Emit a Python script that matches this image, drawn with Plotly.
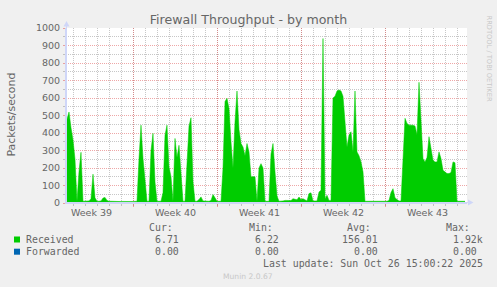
import plotly.graph_objects as go
import pandas as pd

# ---------------- data ----------------
received = [
    480, 520, 430, 360, 250, 10, 180, 290, 10, 10,
    10, 12, 25, 165, 30, 10, 10, 12, 28, 32,
    15, 10, 10, 9, 8, 9, 8, 8, 9, 8,
    8, 9, 8, 9, 10, 10, 254, 445, 254, 150,
    10, 10, 300, 398, 120, 10, 10, 10, 60, 388,
    445, 206, 150, 10, 369, 260, 330, 150, 10, 10,
    250, 440, 487, 120, 10, 10, 20, 35, 12, 10,
    10, 10, 15, 48, 30, 10, 10, 10, 200, 580,
    598, 540, 350, 200, 465, 640, 420, 340, 320, 270,
    340, 292, 150, 150, 150, 10, 200, 225, 200, 10,
    10, 10, 280, 340, 178, 40, 10, 10, 12, 15,
    14, 15, 14, 25, 22, 18, 34, 20, 25, 18,
    12, 54, 58, 12, 12, 12, 63, 73, 940, 25,
    44, 15, 15, 600, 610, 640, 646, 640, 610, 470,
    320, 388, 407, 292, 640, 292, 270, 235, 178, 10,
    10, 10, 10, 10, 10, 10, 10, 10, 10, 10,
    10, 15, 60, 82, 30, 20, 12, 12, 250, 484,
    455, 445, 445, 445, 440, 390, 690, 465, 254, 235,
    260, 379, 300, 245, 235, 235, 292, 254, 187, 178,
    168, 168, 175, 235, 230, 10, 10, 10, 10, 10,
]
received_times = pd.date_range("2025-09-23 11:00", periods=len(received), freq="4h")

forwarded = [0.0, 0.0]
forwarded_times = ["2025-09-23 09:00", "2025-10-26 15:00"]

x_range = ["2025-09-23 09:00", "2025-10-26 19:00"]
week_starts = ["2025-09-29", "2025-10-06", "2025-10-13", "2025-10-20"]
week_label_dates = ["2025-09-25 12:00", "2025-10-02 12:00", "2025-10-09 12:00",
                    "2025-10-16 12:00", "2025-10-23 12:00"]
week_labels = ["Week 39", "Week 40", "Week 41", "Week 42", "Week 43"]

series_names = ["Received", "Forwarded"]
series_colors = ["#00CC00", "#0066B3"]
stat_headers = ["Cur:", "Min:", "Avg:", "Max:"]
received_stats = ["6.71", "6.22", "156.01", "1.92k"]
forwarded_stats = ["0.00", "0.00", "0.00", "0.00"]

title_text = "Firewall Throughput - by month"
y_title = "Packets/second"
last_update = "Last update: Sun Oct 26 15:00:22 2025"
munin_version = "Munin 2.0.67"
rrd_credit = "RRDTOOL / TOBI OETIKER"

# ---------------- layout geometry ----------------
W, H = 497, 287
L, R, T, B = 66, 30, 28, 84
PW, PH = W - L - R, H - T - B


def px(x):
    return (x - L) / PW


def py(y):
    return (H - B - y) / PH


FONT = "DejaVu Sans"
MONO = "DejaVu Sans Mono"
FC = "#666666"
GRID = "rgba(143,143,143,0.5)"
MGRID = "rgba(222,79,79,0.5)"
AXIS = "#CFD6F8"

fig = go.Figure()
fig.add_trace(go.Scatter(
    x=received_times, y=received, mode="lines", fill="tozeroy",
    fillcolor=series_colors[0], line=dict(color=series_colors[0], width=0.5),
    name=series_names[0], hoverinfo="skip", showlegend=False,
))
fig.add_trace(go.Scatter(
    x=forwarded_times, y=forwarded, mode="lines", xaxis="x2",
    line=dict(color=series_colors[1], width=1),
    name=series_names[1], hoverinfo="skip", showlegend=False,
))

annotations = []
shapes = []

# y axis title
annotations.append(dict(text=y_title, x=px(10.5), y=py(114), xref="paper", yref="paper",
                        textangle=-90, showarrow=False, xanchor="center", yanchor="middle",
                        font=dict(family=FONT, size=10.9, color=FC)))
# rrdtool credit
annotations.append(dict(text=rrd_credit, x=px(488.5), y=py(58), xref="paper", yref="paper",
                        textangle=90, showarrow=False, xanchor="center", yanchor="middle",
                        font=dict(family=FONT, size=6.7, color="#C8C8C8")))

# legend header
header_right = [173, 273, 371, 470]
for txt, xr in zip(stat_headers, header_right):
    annotations.append(dict(text=txt, x=px(xr), y=py(227.3), xref="paper", yref="paper",
                            showarrow=False, xanchor="right", yanchor="middle",
                            borderpad=0, borderwidth=0,
                            font=dict(family=MONO, size=9.9, color=FC)))

row_y = [239.5, 251.7]
stat_right = [[179, 279, 378, 483], [179, 279, 378, 477]]
for name, color, stats, ry, rights in zip(series_names, series_colors,
                                           [received_stats, forwarded_stats], row_y, stat_right):
    shapes.append(dict(type="rect", xref="paper", yref="paper",
                       x0=px(14), x1=px(20), y0=py(ry + 3), y1=py(ry - 3),
                       fillcolor=color, line=dict(width=0)))
    annotations.append(dict(text=name, x=px(26), y=py(ry), xref="paper", yref="paper",
                            showarrow=False, xanchor="left", yanchor="middle",
                            borderpad=0, borderwidth=0,
                            font=dict(family=MONO, size=9.9, color=FC)))
    for val, xr in zip(stats, rights):
        annotations.append(dict(text=val, x=px(xr), y=py(ry), xref="paper", yref="paper",
                                showarrow=False, xanchor="right", yanchor="middle",
                                borderpad=0, borderwidth=0,
                                font=dict(family=MONO, size=9.9, color=FC)))

annotations.append(dict(text=last_update, x=px(483), y=py(263.5), xref="paper", yref="paper",
                        showarrow=False, xanchor="right", yanchor="middle",
                        borderpad=0, borderwidth=0,
                        font=dict(family=MONO, size=9.9, color=FC)))
annotations.append(dict(text=munin_version, x=px(248), y=py(276), xref="paper", yref="paper",
                        showarrow=False, xanchor="center", yanchor="middle",
                        borderpad=0, borderwidth=0,
                        font=dict(family=FONT, size=7.6, color="#C8C8C8")))

# axis extensions with arrows
shapes.append(dict(type="line", xref="paper", yref="paper", x0=px(66.5), x1=px(66.5),
                   y0=py(203), y1=py(25), line=dict(color=AXIS, width=1)))
shapes.append(dict(type="path", xref="paper", yref="paper",
                   path=f"M {px(63.5)} {py(26.5)} L {px(66.5)} {py(21)} L {px(69.5)} {py(26.5)} Z",
                   fillcolor=AXIS, line=dict(width=0)))
shapes.append(dict(type="line", xref="paper", yref="paper", x0=px(66), x1=px(469),
                   y0=py(202.5), y1=py(202.5), line=dict(color=AXIS, width=1)))
shapes.append(dict(type="path", xref="paper", yref="paper",
                   path=f"M {px(468)} {py(199.5)} L {px(473.5)} {py(202.5)} L {px(468)} {py(205.5)} Z",
                   fillcolor=AXIS, line=dict(width=0)))

fig.update_layout(
    width=W, height=H,
    margin=dict(l=L, r=R, t=T, b=B, pad=0),
    paper_bgcolor="#F0F0F0", plot_bgcolor="#FFFFFF",
    title=dict(text=title_text, x=0.5, xref="container", xanchor="center",
               y=1 - 19.3 / H, yref="container", yanchor="middle",
               font=dict(family=FONT, size=12.6, color=FC)),
    showlegend=False,
    xaxis=dict(
        type="date", range=x_range, tickmode="array", tickvals=week_starts,
        showticklabels=False, ticks="outside", ticklen=3, tickcolor=MGRID,
        showgrid=True, gridcolor=MGRID, griddash="1px,1px", gridwidth=1,
        minor=dict(dtick=86400000, tick0="2025-09-24", showgrid=True, gridcolor=GRID,
                   griddash="1px,1px", ticks="outside", ticklen=2, tickcolor=GRID),
        showline=True, linecolor=AXIS, linewidth=1, zeroline=False, fixedrange=True,
    ),
    xaxis2=dict(
        type="date", range=x_range, overlaying="x", anchor="y", side="bottom",
        tickmode="array", tickvals=week_label_dates, ticktext=week_labels,
        showgrid=False, showline=False, ticks="", zeroline=False, ticklabelstandoff=2,
        tickfont=dict(family=FONT, size=9.5, color=FC), fixedrange=True,
    ),
    yaxis=dict(
        range=[0, 1000], tick0=0, dtick=100, ticks="outside", ticklen=2, tickcolor=MGRID,
        showgrid=True, gridcolor=MGRID, griddash="1px,1px", gridwidth=1,
        minor=dict(dtick=50, showgrid=True, gridcolor=GRID, griddash="1px,1px",
                   ticks="outside", ticklen=2, tickcolor=GRID),
        showline=True, linecolor=AXIS, linewidth=1, zeroline=False, ticklabelstandoff=1,
        tickfont=dict(family=FONT, size=9.5, color=FC), fixedrange=True,
    ),
    annotations=annotations,
    shapes=shapes,
)

fig.write_html("out.html")
